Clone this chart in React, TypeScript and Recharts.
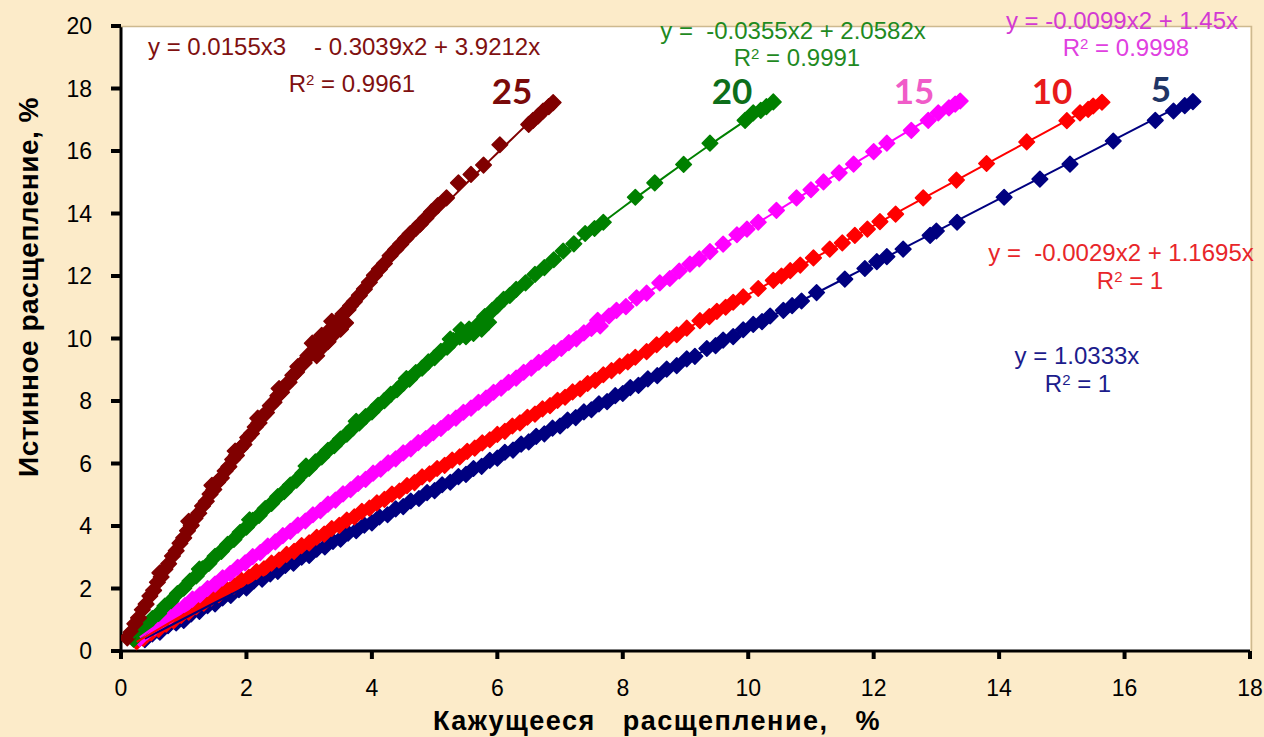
import React from "react";
import { ScatterChart, Scatter, XAxis, YAxis, CartesianGrid } from "recharts";

type Pt = [number, number];

const W = 1264;
const H = 737;
const PAGE_BG = "#fcebc9";

const xTicks = [0, 2, 4, 6, 8, 10, 12, 14, 16, 18];
const yTicks = [0, 2, 4, 6, 8, 10, 12, 14, 16, 18, 20];

// apparent split (x, %) vs true split (y, %) for each series
const series5: Pt[] = [
  [0.38, 0.36], [0.5, 0.55], [0.62, 0.6], [0.75, 0.81], [0.88, 0.9], [1.0, 0.98], [1.12, 1.19], [1.25, 1.27],
  [1.38, 1.45], [1.5, 1.51], [1.62, 1.7], [1.75, 1.78], [1.88, 1.96], [2.0, 2.02], [2.12, 2.24], [2.25, 2.3],
  [2.38, 2.47], [2.5, 2.55], [2.62, 2.74], [2.75, 2.81], [2.88, 3.0], [3.0, 3.06], [3.12, 3.26], [3.25, 3.33],
  [3.38, 3.51], [3.5, 3.58], [3.62, 3.77], [3.75, 3.85], [3.88, 4.03], [4.0, 4.1], [4.12, 4.29], [4.25, 4.36],
  [4.38, 4.55], [4.5, 4.62], [4.62, 4.8], [4.75, 4.88], [4.88, 5.07], [5.0, 5.13], [5.12, 5.32], [5.25, 5.4],
  [5.38, 5.58], [5.5, 5.65], [5.62, 5.84], [5.75, 5.91], [5.88, 6.1], [6.0, 6.17], [6.12, 6.36], [6.25, 6.43],
  [6.38, 6.62], [6.5, 6.69], [6.62, 6.87], [6.75, 6.95], [6.88, 7.13], [7.0, 7.2], [7.12, 7.39], [7.25, 7.47],
  [7.38, 7.65], [7.5, 7.72], [7.62, 7.91], [7.75, 7.98], [7.88, 8.17], [8.0, 8.24], [8.12, 8.43], [8.25, 8.5],
  [8.4, 8.71], [8.55, 8.81], [8.7, 9.02], [8.86, 9.13], [9.02, 9.35], [9.15, 9.43], [9.34, 9.68], [9.48, 9.77],
  [9.6, 9.95], [9.76, 10.06], [9.92, 10.28], [10.08, 10.45], [10.22, 10.54], [10.35, 10.72], [10.56, 10.9],
  [10.7, 11.05], [10.85, 11.2], [11.09, 11.47], [11.54, 11.9], [11.86, 12.24], [12.05, 12.46], [12.21, 12.62],
  [12.47, 12.86], [12.9, 13.3], [13.0, 13.44], [13.33, 13.72], [14.08, 14.52], [14.65, 15.1], [15.13, 15.58],
  [15.82, 16.32], [16.49, 16.98], [16.78, 17.28], [16.96, 17.45], [17.09, 17.58],
];

const series10: Pt[] = [
  [0.25, 0.3], [0.36, 0.4], [0.48, 0.58], [0.6, 0.69], [0.72, 0.86], [0.84, 0.97], [0.96, 1.14], [1.08, 1.24],
  [1.2, 1.42], [1.32, 1.53], [1.44, 1.7], [1.56, 1.8], [1.68, 1.98], [1.8, 2.08], [1.92, 2.26], [2.04, 2.36],
  [2.16, 2.54], [2.28, 2.63], [2.4, 2.81], [2.52, 2.91], [2.64, 3.09], [2.76, 3.19], [2.88, 3.37], [3.0, 3.46],
  [3.12, 3.64], [3.24, 3.74], [3.36, 3.92], [3.48, 4.02], [3.6, 4.19], [3.72, 4.29], [3.84, 4.47], [3.96, 4.57],
  [4.08, 4.74], [4.2, 4.85], [4.32, 5.02], [4.44, 5.12], [4.56, 5.29], [4.68, 5.39], [4.8, 5.57], [4.92, 5.67],
  [5.04, 5.84], [5.16, 5.94], [5.28, 6.11], [5.4, 6.21], [5.52, 6.39], [5.64, 6.49], [5.76, 6.66], [5.88, 6.76],
  [6.0, 6.93], [6.12, 7.03], [6.24, 7.2], [6.36, 7.3], [6.48, 7.48], [6.6, 7.58], [6.72, 7.75], [6.84, 7.85],
  [6.96, 8.02], [7.08, 8.12], [7.2, 8.29], [7.32, 8.39], [7.44, 8.56], [7.56, 8.66], [7.69, 8.84], [7.82, 8.97],
  [7.95, 9.12], [8.08, 9.25], [8.2, 9.4], [8.38, 9.58], [8.54, 9.8], [8.7, 9.97], [8.86, 10.12], [9.02, 10.33],
  [9.23, 10.57], [9.38, 10.7], [9.5, 10.87], [9.64, 11.0], [9.76, 11.16], [9.92, 11.33], [10.16, 11.6],
  [10.4, 11.86], [10.53, 12.0], [10.67, 12.17], [10.83, 12.35], [11.04, 12.58], [11.3, 12.86], [11.5, 13.06],
  [11.7, 13.3], [11.9, 13.5], [12.1, 13.74], [12.35, 13.98], [12.79, 14.5], [13.32, 15.07], [13.8, 15.6],
  [14.44, 16.29], [15.08, 16.97], [15.29, 17.22], [15.42, 17.33], [15.5, 17.44], [15.64, 17.56],
];

const series15: Pt[] = [
  [0.3, 0.4], [0.42, 0.62], [0.54, 0.76], [0.66, 0.97], [0.78, 1.11], [0.9, 1.31], [1.02, 1.45], [1.14, 1.66],
  [1.26, 1.8], [1.38, 2.0], [1.5, 2.14], [1.62, 2.34], [1.74, 2.48], [1.86, 2.68], [1.98, 2.82], [2.1, 3.02],
  [2.22, 3.15], [2.34, 3.36], [2.46, 3.49], [2.58, 3.69], [2.7, 3.83], [2.82, 4.03], [2.94, 4.16], [3.06, 4.36],
  [3.18, 4.49], [3.3, 4.7], [3.42, 4.83], [3.54, 5.03], [3.66, 5.16], [3.78, 5.36], [3.9, 5.49], [4.02, 5.69],
  [4.14, 5.82], [4.26, 6.02], [4.38, 6.15], [4.5, 6.34], [4.62, 6.47], [4.74, 6.67], [4.86, 6.8], [4.98, 6.99],
  [5.1, 7.12], [5.22, 7.32], [5.34, 7.45], [5.46, 7.64], [5.58, 7.77], [5.7, 7.96], [5.82, 8.09], [5.94, 8.28],
  [6.06, 8.41], [6.18, 8.6], [6.3, 8.73], [6.42, 8.92], [6.54, 9.05], [6.66, 9.24], [6.78, 9.36], [6.9, 9.55],
  [7.02, 9.68], [7.14, 9.87], [7.26, 9.99], [7.38, 10.18], [7.5, 10.32], [7.6, 10.58], [7.64, 10.4],
  [7.78, 10.72], [7.9, 10.9], [8.05, 11.02], [8.22, 11.3], [8.38, 11.45], [8.59, 11.78], [8.75, 11.92],
  [8.9, 12.16], [9.07, 12.38], [9.22, 12.55], [9.39, 12.78], [9.6, 13.02], [9.82, 13.32], [9.98, 13.5],
  [10.16, 13.72], [10.45, 14.1], [10.77, 14.5], [11.0, 14.76], [11.2, 15.01], [11.45, 15.3], [11.68, 15.58],
  [12.0, 15.98], [12.21, 16.25], [12.6, 16.66], [12.87, 16.98], [13.03, 17.22], [13.2, 17.38], [13.3, 17.5],
  [13.38, 17.6],
];

const series20: Pt[] = [
  [0.2, 0.38], [0.3, 0.63], [0.4, 0.8], [0.5, 1.04], [0.6, 1.2], [0.7, 1.44], [0.8, 1.61], [0.9, 1.84],
  [1.0, 2.01], [1.1, 2.24], [1.2, 2.4], [1.3, 2.63], [1.4, 2.8], [1.5, 3.03], [1.6, 3.19], [1.7, 3.41],
  [1.8, 3.57], [1.9, 3.8], [2.0, 3.96], [2.1, 4.18], [2.2, 4.34], [2.3, 4.56], [2.4, 4.72], [2.5, 4.94],
  [2.6, 5.1], [2.7, 5.31], [2.8, 5.47], [2.9, 5.69], [3.0, 5.84], [3.1, 6.05], [3.2, 6.21], [3.3, 6.42],
  [3.4, 6.57], [3.5, 6.78], [3.6, 6.94], [3.7, 7.14], [3.8, 7.3], [3.9, 7.5], [4.0, 7.65], [4.1, 7.86],
  [4.2, 8.01], [4.3, 8.21], [4.4, 8.36], [4.5, 8.56], [4.6, 8.7], [4.7, 8.91], [4.8, 9.05], [4.9, 9.25],
  [5.0, 9.39], [5.1, 9.59], [5.2, 9.72], [5.3, 9.93], [5.4, 10.05], [5.42, 10.28], [5.5, 10.06], [5.55, 10.3],
  [5.62, 10.16], [5.68, 10.42], [5.75, 10.3], [5.8, 10.7], [5.86, 10.52], [5.92, 10.9], [6.0, 11.05],
  [6.1, 11.25], [6.2, 11.38], [6.3, 11.57], [6.45, 11.78], [6.6, 12.05], [6.75, 12.27], [6.9, 12.52],
  [7.05, 12.8], [7.22, 13.03], [7.4, 13.36], [7.55, 13.52], [7.69, 13.72], [8.2, 14.52], [8.51, 14.98],
  [8.97, 15.57], [9.39, 16.25], [9.95, 16.98], [10.08, 17.22], [10.2, 17.3], [10.29, 17.42], [10.4, 17.57],
  // readings sitting just off the main band
  [1.25, 2.62], [2.05, 4.2], [2.95, 5.92], [3.75, 7.35], [4.55, 8.72], [5.25, 9.98],
];

const series25: Pt[] = [
  [0.1, 0.42], [0.16, 0.6], [0.22, 0.87], [0.28, 1.06], [0.34, 1.32], [0.4, 1.5], [0.46, 1.76], [0.52, 1.94],
  [0.58, 2.2], [0.64, 2.37], [0.7, 2.62], [0.76, 2.79], [0.82, 3.04], [0.88, 3.21], [0.94, 3.45], [1.0, 3.62],
  [1.06, 3.85], [1.12, 4.02], [1.18, 4.25], [1.24, 4.41], [1.3, 4.64], [1.36, 4.79], [1.42, 5.02], [1.48, 5.17],
  [1.54, 5.4], [1.6, 5.54], [1.66, 5.76], [1.72, 5.9], [1.78, 6.13], [1.84, 6.26], [1.9, 6.48], [1.96, 6.61],
  [2.02, 6.83], [2.08, 6.96], [2.14, 7.17], [2.2, 7.3], [2.26, 7.52], [2.32, 7.63], [2.38, 7.85], [2.44, 7.96],
  [2.5, 8.17], [2.56, 8.28], [2.62, 8.5], [2.68, 8.6], [2.74, 8.82], [2.8, 8.93], [2.86, 9.15], [2.92, 9.22],
  [2.98, 9.45], [3.04, 9.52], [3.1, 9.75], [3.12, 9.45], [3.16, 9.83], [3.2, 10.1], [3.22, 9.75], [3.28, 10.18],
  [3.3, 9.9], [3.34, 10.25], [3.36, 10.55], [3.4, 10.15], [3.44, 10.45], [3.48, 10.62], [3.5, 10.3],
  [3.54, 10.78], [3.58, 10.5], [3.62, 10.92], [3.66, 11.05], [3.72, 11.18], [3.8, 11.38], [3.88, 11.58],
  [3.96, 11.8], [4.04, 12.02], [4.12, 12.22], [4.2, 12.4], [4.29, 12.65], [4.38, 12.85], [4.46, 13.02],
  [4.54, 13.2], [4.61, 13.35], [4.7, 13.52], [4.77, 13.66], [4.86, 13.85], [4.95, 14.05], [5.05, 14.25],
  [5.19, 14.5], [5.38, 14.98], [5.58, 15.25], [5.78, 15.55], [6.04, 16.2], [6.5, 16.85], [6.57, 16.98],
  [6.65, 17.12], [6.73, 17.28], [6.82, 17.42], [6.89, 17.55],
  // readings sitting just off the main band
  [0.62, 2.5], [1.08, 4.15], [1.45, 5.3], [1.82, 6.4], [2.18, 7.45], [2.52, 8.4], [2.82, 9.1], [3.05, 9.85],
];

// trendline coefficients [x^3, x^2, x], zero intercept
const fit5 = [0, 0, 1.0333];
const fit10 = [0, -0.0029, 1.1695];
const fit15 = [0, -0.0099, 1.45];
const fit20 = [0, -0.0355, 2.0582];
const fit25 = [0.0155, -0.3039, 3.9212];

const groups = [
  { key: "s5", pts: series5, fit: fit5, color: "#000080" },
  { key: "s10", pts: series10, fit: fit10, color: "#ff0000" },
  { key: "s15", pts: series15, fit: fit15, color: "#ff00ff" },
  { key: "s20", pts: series20, fit: fit20, color: "#008000" },
  { key: "s25", pts: series25, fit: fit25, color: "#800000" },
];

const toData = (pts: Pt[]) => pts.map(([x, y]) => ({ x, y }));

const trendData = (fit: number[], pts: Pt[]) => {
  const xs = pts.map((p) => p[0]);
  const x0 = Math.min(...xs);
  const x1 = Math.max(...xs);
  const out: { x: number; y: number }[] = [];
  for (let i = 0; i <= 60; i++) {
    const x = x0 + ((x1 - x0) * i) / 60;
    out.push({ x, y: fit[0] * x * x * x + fit[1] * x * x + fit[2] * x });
  }
  return out;
};

const Diamond = (props: any) => {
  const { cx, cy, fill } = props;
  if (cx == null || cy == null) return <g />;
  const r = 7.8;
  return (
    <path
      d={`M${cx} ${cy - r}L${cx + r} ${cy}L${cx} ${cy + r}L${cx - r} ${cy}Z`}
      fill={fill}
      stroke={fill}
      strokeWidth={1.5}
      strokeLinejoin="round"
    />
  );
};

const NoDot = () => <g />;

const SANS = "'Liberation Sans', Arial, sans-serif";
const tickStyle = { fontFamily: SANS, fontSize: 23, fill: "#000" };

function R2({ x, y, value, color }: { x: number; y: number; value: string; color: string }) {
  return (
    <text x={x} y={y} fill={color} textAnchor="middle" fontFamily={SANS} fontSize={24} style={{ whiteSpace: "pre" }}>
      R<tspan dy={-7} fontSize={15}>2</tspan>
      <tspan dy={7}> = {value}</tspan>
    </text>
  );
}

function Eq({ x, y, text, color, anchor = "middle" }: { x: number; y: number; text: string; color: string; anchor?: string }) {
  return (
    <text x={x} y={y} fill={color} textAnchor={anchor as any} fontFamily={SANS} fontSize={24} style={{ whiteSpace: "pre" }}>
      {text}
    </text>
  );
}

function Tag({ x, y, text, color }: { x: number; y: number; text: string; color: string }) {
  return (
    <text x={x} y={y} fill={color} textAnchor="middle" fontFamily="Lato, 'Open Sans', sans-serif" fontWeight={700} fontSize={35}>
      {text}
    </text>
  );
}

function Annotations() {
  return (
    <svg width={W} height={H} style={{ position: "absolute", left: 0, top: 0, pointerEvents: "none" }}>
      <path d="M121 26.5H1251.5V651" fill="none" stroke="#cdb98f" strokeWidth={1.5} />

      <Eq x={148} y={55} text="y = 0.0155x3" color="#801010" anchor="start" />
      <Eq x={314} y={55} text="- 0.3039x2 + 3.9212x" color="#801010" anchor="start" />
      <R2 x={352} y={92} value="0.9961" color="#801010" />
      <Tag x={512} y={104} text="25" color="#7a0a0a" />

      <Eq x={793} y={39} text="y =  -0.0355x2 + 2.0582x" color="#1f8a1f" />
      <R2 x={797} y={66} value="0.9991" color="#1f8a1f" />
      <Tag x={732} y={104} text="20" color="#0d6e1a" />

      <Eq x={1122} y={29} text="y = -0.0099x2 + 1.45x" color="#d33ad3" />
      <R2 x={1126} y={56} value="0.9998" color="#e040e0" />
      <Tag x={914} y={104} text="15" color="#f05cc8" />

      <Tag x={1052} y={104} text="10" color="#e81a1a" />
      <Tag x={1161} y={102} text="5" color="#1f3566" />

      <Eq x={1121} y={261} text="y =  -0.0029x2 + 1.1695x" color="#e8262a" />
      <R2 x={1130} y={289} value="1" color="#e8262a" />

      <Eq x={1077} y={364} text="y = 1.0333x" color="#1c1c8c" />
      <R2 x={1078} y={392} value="1" color="#1c1c8c" />

      <text
        x={28}
        y={287}
        transform="rotate(-90 28 287)"
        textAnchor="middle"
        dominantBaseline="central"
        fontFamily={SANS}
        fontWeight={700}
        fontSize={28}
        letterSpacing={0.5}
        fill="#000"
      >
        Истинное расщепление, %
      </text>
      <text
        x={657}
        y={730}
        textAnchor="middle"
        fontFamily={SANS}
        fontWeight={700}
        fontSize={27}
        letterSpacing={1.5}
        fill="#000"
        style={{ whiteSpace: "pre" }}
      >
        Кажущееся   расщепление,   %
      </text>
    </svg>
  );
}

export default function App() {
  return (
    <div style={{ position: "absolute", left: 0, top: 0, width: W, height: H, background: PAGE_BG, overflow: "hidden" }}>
      <ScatterChart width={W} height={H} margin={{ top: 26, right: 14, bottom: 0, left: 0 }}>
        <CartesianGrid horizontal={false} vertical={false} fill="#ffffff" />
        <XAxis
          type="number"
          dataKey="x"
          domain={[0, 18]}
          ticks={xTicks}
          interval={0}
          height={86}
          tick={tickStyle}
          tickSize={8}
          tickMargin={21}
          axisLine={{ stroke: "#000", strokeWidth: 3 }}
          tickLine={{ stroke: "#000", strokeWidth: 4 }}
          allowDataOverflow
        />
        <YAxis
          type="number"
          dataKey="y"
          domain={[0, 20]}
          ticks={yTicks}
          interval={0}
          width={121}
          tick={tickStyle}
          tickSize={10}
          tickMargin={19}
          axisLine={{ stroke: "#000", strokeWidth: 3 }}
          tickLine={{ stroke: "#000", strokeWidth: 4 }}
          allowDataOverflow
        />
        {groups.map((g) => (
          <Scatter key={g.key} data={toData(g.pts)} fill={g.color} shape={<Diamond />} isAnimationActive={false} />
        ))}
        {groups.map((g) => (
          <Scatter
            key={g.key + "-fit"}
            data={trendData(g.fit, g.pts)}
            fill={g.color}
            shape={<NoDot />}
            line={{ stroke: g.color, strokeWidth: 2 }}
            lineType="joint"
            isAnimationActive={false}
          />
        ))}
      </ScatterChart>
      <Annotations />
    </div>
  );
}
